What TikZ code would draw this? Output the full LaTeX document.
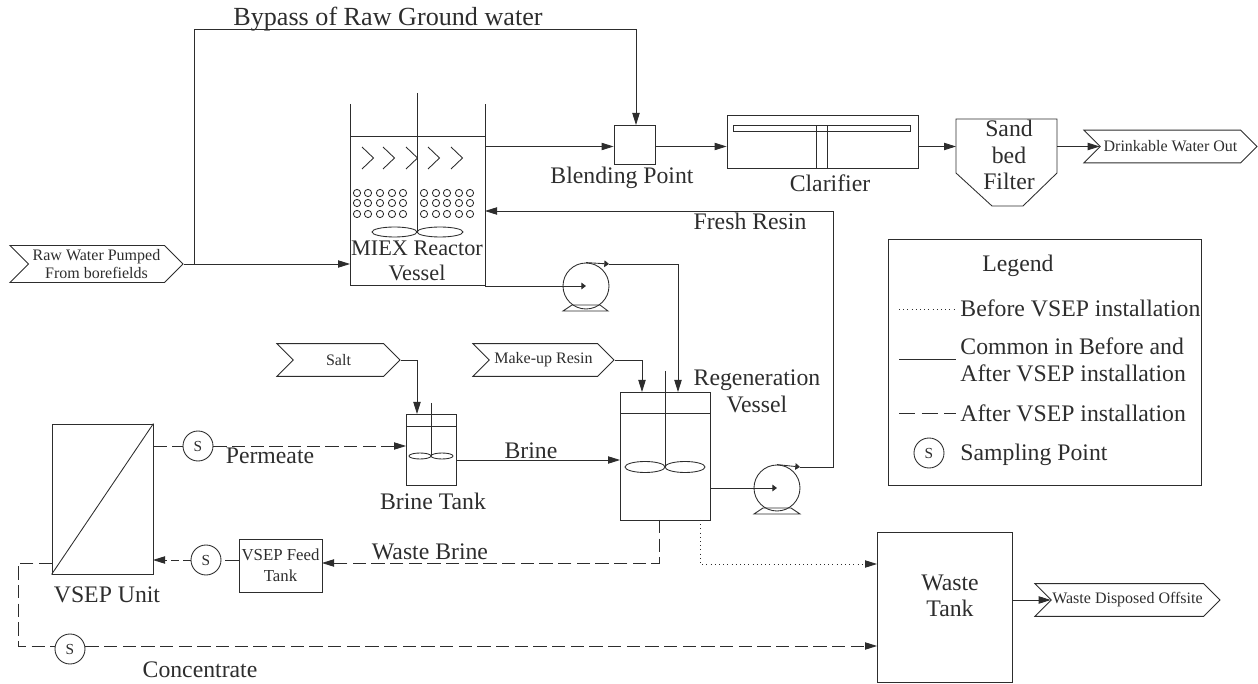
\documentclass[tikz,border=0pt]{standalone}
\usepackage{fontspec}
\setmainfont{Liberation Serif}
\usetikzlibrary{arrows.meta, shapes.symbols}
\definecolor{cLine}{RGB}{45,45,45}

\begin{document}
\begin{tikzpicture}[x=0.75pt, y=-0.75pt, line width=0.65pt, color=cLine,
      lbl/.style={font=\fontsize{17.8}{20}\selectfont, align=center, inner sep=0pt},
      sample/.style={draw, circle, minimum size=22.5pt, inner sep=0pt, font=\fontsize{11.5}{12}\selectfont, fill=white},
      plainbox/.style={draw, inner sep=0pt},
      tagbox/.style={draw, shape=signal, signal to=east, signal from=west, signal pointer angle=90,
                  minimum height=24.5pt, font=\fontsize{12}{13.5}\selectfont, align=center, inner sep=0pt},
      ar/.style={-{Triangle[length=9pt, width=5.5pt]}},
      arsm/.style={-{Triangle[length=3.5pt, width=5pt]}},
      aft/.style={dash pattern=on 10pt off 4pt},
      bef/.style={dash pattern=on 0.75pt off 2.4pt}
    ]
    \useasboundingbox (0,0) rectangle (1258,684);

    % reactor
    \coordinate (reacTL) at (350,104);
    \coordinate (reacTR) at (485,104);
    \coordinate (reacBL) at (350,285);
    \coordinate (reacBR) at (485,285);
    \draw (reacTL) -- (reacBL) -- (reacBR) -- (reacTR);
    \draw (350,136) -- (485,136);
    \draw (417,93) -- (417,232);
    \draw (394.5,232) ellipse (22.5*0.75pt and 5*0.75pt);
    \draw (440,232) ellipse (23*0.75pt and 5*0.75pt);
    \foreach \x in {362,383,406,428,451}
      \draw (\x,147) -- ++(11.5,11) -- ++(-11.5,11);
    \foreach \x in {357,368,380,392,403,424,436,447,459,470}
      \foreach \y in {193,203,214}
        \draw (\x,\y) circle (3.6*0.75pt);
    \node[lbl, font=\fontsize{16.7}{19}\selectfont] (reacl) at (417,261) {MIEX Reactor\\Vessel};

    % first pump
    \node[draw, circle, minimum size=34.5pt, inner sep=0pt] (pumpa) at (586,286) {};
    \draw (563,311) -- (572,305) -- (600,305) -- (608,311) -- cycle;

    % blending, clarifier, filter
    \coordinate (flowa) at (0,146.5);
    \node[plainbox, minimum width=30.75pt, minimum height=29.25pt] (blend) at (634.5,144.5) {};
    \node[lbl] (blendl) at (622,178) {Blending Point};
    \node[plainbox, minimum width=143.25pt, minimum height=39.75pt] (clar) at (822.5,141.5) {};
    \draw (733,125) rectangle (910,131);
    \draw (816,125) rectangle (827,168);
    \node[lbl] (clarl) at (830,183) {Clarifier};
    \draw (956,119) -- (1057,119) -- (1057,173) -- (1023,206) -- (992,206) -- (956,173) -- cycle;
    \coordinate (filtIn) at (956,146.5);
    \coordinate (filtOut) at (1057,146.5);
    \node[lbl] (filtl) at (1009,155) {Sand\\bed\\Filter};

    % feed tags
    \node[tagbox, minimum width=129.75pt, minimum height=27.75pt, inner xsep=-1.5pt] (raw) at (96.5,264) {Raw Water Pumped\\From borefields};
    \node[tagbox, minimum width=129.75pt] (drink) at (1170.5,146.5) {Drinkable Water Out};
    \node[tagbox, minimum width=92.25pt] (salt) at (338.5,360) {Salt};
    \node[tagbox, minimum width=105.75pt] (makeup) at (543.5,360) {Make-up Resin};
    \node[tagbox, minimum width=138.75pt] (waste) at (1127.5,600) {Waste Disposed Offsite};

    % regeneration vessel
    \node[plainbox, minimum width=67.5pt, minimum height=96pt] (regen) at (665,456) {};
    \draw (620,413) -- (710,413);
    \draw (665,371) -- (665,467);
    \draw (645,467) ellipse (20*0.75pt and 5.5*0.75pt);
    \draw (685,467) ellipse (20*0.75pt and 5.5*0.75pt);
    \node[lbl] (regenl) at (757,391) {Regeneration\\Vessel};
    \node[draw, circle, minimum size=34.5pt, inner sep=0pt] (pumpb) at (777,488) {};
    \draw (754,514) -- (763,508) -- (791,508) -- (800,514) -- cycle;

    % brine tank
    \node[plainbox, minimum width=37.5pt, minimum height=53.25pt] (brine) at (431,449.5) {};
    \draw (406,426) -- (456,426);
    \draw (431,403) -- (431,456);
    \draw (420,456) ellipse (11*0.75pt and 3*0.75pt);
    \draw (442,456) ellipse (11*0.75pt and 3*0.75pt);
    \node[lbl] (brinel) at (433,501) {Brine Tank};

    % vsep
    \node[plainbox, minimum width=75.75pt, minimum height=112.5pt] (vsep) at (102.5,499) {};
    \draw (vsep.south west) -- (vsep.north east);
    \node[lbl] (vsepl) at (107,595) {VSEP Unit};
    \node[draw, minimum width=62.25pt, minimum height=39.75pt, align=center, inner sep=0pt,
          font=\fontsize{12.6}{15.75}\selectfont] (feed) at (280.5,565.5) {VSEP Feed\\Tank};
    \node[sample] (sa) at (198,446) {S};
    \node[sample] (sb) at (206,560) {S};
    \node[sample] (sc) at (70,649) {S};

    % waste tank
    \node[plainbox, minimum width=101.25pt, minimum height=112.5pt] (wtank) at (944.5,607) {};
    \node[lbl] (wtankl) at (950,596) {Waste\\Tank};

    % solid lines
    \draw[ar] (raw.east) -- (reacBL |- raw.east);
    \draw[ar] (194,264) -- (194,29) -- (636,29) -- (636,125);
    \draw[ar] (485,146.5) -- (blend.west |- flowa);
    \draw[ar] (blend.east |- flowa) -- (clar.west |- flowa);
    \draw[ar] (clar.east |- flowa) -- (filtIn);
    \draw[ar] (filtOut) -- (drink.west);
    \draw[arsm] (reacBR |- pumpa.center) -- (pumpa.center);
    \draw[arsm] (pumpa.north) -- (609,264);
    \draw[ar] (609,264) -- (678,264) -- (678,392);
    \draw[ar] (salt.east) -- (417,360) -- (417,414);
    \draw[ar] (makeup.east) -- (642,360) -- (642,392);
    \draw[ar] (456,460) -- (620,460);
    \draw[arsm] (regen.east |- pumpb.center) -- (pumpb.center);
    \draw[arsm] (pumpb.north) -- (800,467);
    \draw[ar] (800,467) -- (833,467) -- (833,211) -- (485,211);
    \draw[ar] (wtank.east |- waste.west) -- (waste.west);

    % dashed lines
    \draw[aft] (vsep.east |- sa) -- (sa);
    \draw[aft, ar] (sa) -- (406,446);
    \draw[aft, ar] (659,520) -- (659,563) -- (322,563);
    \draw[aft] (feed.west |- sb) -- (sb);
    \draw[dash pattern=on 6pt off 3pt, ar] (sb) -- (153,560);
    \draw[aft] (52,563) -- (18,563) -- (18,646) -- (sc.west |- 0,646);
    \draw[aft, ar] (sc.east |- 0,646) -- (877,646);

    % dotted line
    \draw[bef, ar] (700,520) -- (700,564) -- (877,564);

    % stream names
    \node[lbl] (perml) at (270,456) {Permeate};
    \node[lbl] (brl) at (531,451) {Brine};
    \node[lbl] (wbl) at (430,552) {Waste Brine};
    \node[lbl] (concl) at (200,670) {Concentrate};
    \node[lbl] (freshl) at (750,221) {Fresh Resin};
    \node[lbl, font=\fontsize{19.6}{20}\selectfont] (bypl) at (388,19) {Bypass of Raw Ground water};

    % legend
    \node[plainbox, minimum width=234.75pt, minimum height=184.5pt] (legend) at (1044.5,362) {};
    \node[lbl] (legl) at (1018,266) {Legend};
    \node[lbl, anchor=west] (legb) at (960,308) {Before VSEP installation};
    \node[lbl, anchor=west, align=left] (legc) at (960,359.5) {Common in Before and\\After VSEP installation};
    \node[lbl, anchor=west] (lega) at (960,413) {After VSEP installation};
    \node[lbl, anchor=west] (legs) at (960,455) {Sampling Point};
    \node[sample] (legss) at (929,453) {S};
    \draw[bef, line width=0.5pt] (899,309) -- (956,309);
    \draw (899,359) -- (956,359);
    \draw[dash pattern=on 12pt off 5pt] (899,413) -- (956,413);
\end{tikzpicture}
\end{document}
